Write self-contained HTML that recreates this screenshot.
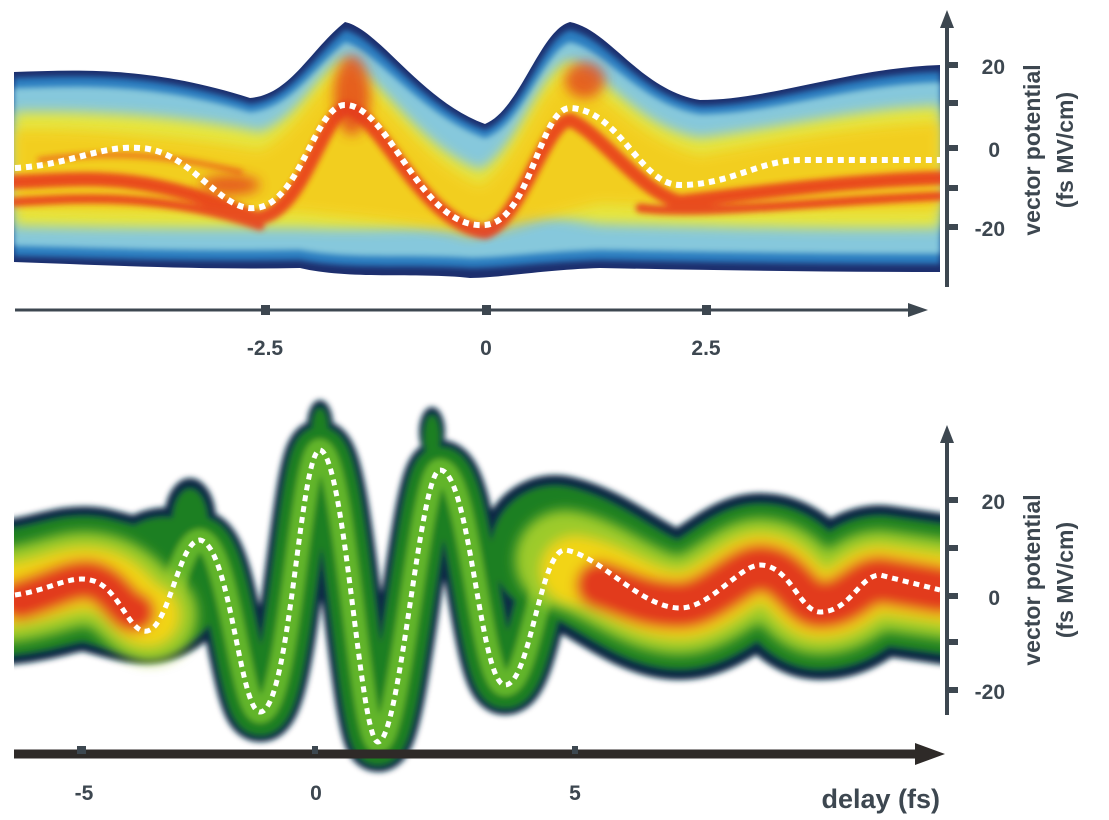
<!DOCTYPE html>
<html><head><meta charset="utf-8"><style>
html,body{margin:0;padding:0;background:#fff;width:1109px;height:820px;overflow:hidden}
svg text{font-family:"Liberation Sans",sans-serif;font-weight:bold;fill:#3d4750}
</style></head><body>
<svg width="1109" height="820" viewBox="0 0 1109 820" xmlns="http://www.w3.org/2000/svg">
<defs>
<filter id="b" filterUnits="userSpaceOnUse" x="0" y="0" width="1109" height="820"><feGaussianBlur stdDeviation="3"/></filter>
<filter id="b2" filterUnits="userSpaceOnUse" x="0" y="0" width="1109" height="820"><feGaussianBlur stdDeviation="6"/></filter>
<clipPath id="ct"><rect x="14" y="0" width="926" height="300"/></clipPath>
<clipPath id="cb"><rect x="14" y="380" width="926" height="400"/></clipPath>
<path id="m" d="M15,595 C50,590 70,575 90,580 C120,585 130,640 150,630 C170,620 180,540 200,540 C230,545 240,712 260,712 C290,712 300,450 320,450 C345,455 360,742 378,742 C400,742 420,470 440,470 C470,470 480,685 505,685 C530,685 540,550 565,550 C600,555 640,608 680,608 C710,608 740,565 760,565 C790,565 800,612 820,612 C850,612 860,575 880,575 L940,590"/>
<path id="L" d="M10,592 C50,588 70,575 95,580 C130,588 150,600 165,580"/>
<path id="R" d="M555,550 C600,560 640,605 680,605 C710,605 740,568 760,568 C790,568 800,605 820,605 C850,605 860,580 880,580 L950,590"/>
</defs>
<!-- TOP PANEL -->
<g clip-path="url(#ct)">
<path d="M14,72 C80,70 150,66 250,98 C290,95 310,50 345,22 C380,30 420,100 485,124 C520,110 540,30 570,22 C610,30 640,90 700,100 C770,100 850,68 940,65 L940,272 C820,272 700,270 600,268 C540,270 500,278 470,278 C420,272 350,280 300,268 C200,270 100,265 14,262 Z" fill="#1d2f6e"/>
<path d="M14,78 C80,76 150,72 250,104 C290,100 312,58 345,30 C378,38 420,106 485,130 C522,116 542,38 570,30 C608,38 640,96 700,106 C770,106 850,74 940,72 L940,264 C820,264 700,262 600,260 C540,262 500,268 470,268 C420,264 350,270 300,260 C200,262 100,258 14,256 Z" fill="#2a7dc0" filter="url(#b)"/>
<path d="M14,88 C80,86 150,82 250,112 C290,108 314,68 345,42 C376,50 420,114 485,138 C524,124 544,50 570,42 C606,50 640,104 700,114 C770,114 850,84 940,82 L940,254 C820,254 700,252 600,250 C540,252 500,258 470,258 C420,254 350,260 300,250 C200,252 100,248 14,246 Z" fill="#86c8dc" filter="url(#b)"/>
<path d="M14,112 C100,110 200,118 260,132 C300,118 320,68 345,58 C380,78 420,148 480,170 C520,148 540,68 570,60 C610,78 640,128 700,138 C780,128 860,108 940,106 L940,228 C820,230 700,226 600,224 C540,214 520,210 470,224 C420,228 350,230 300,228 C200,228 100,228 14,226 Z" fill="#e6e640" filter="url(#b2)"/>
<path d="M14,130 C100,128 200,140 260,150 C300,130 320,80 345,70 C380,90 420,160 480,185 C520,160 540,80 570,75 C610,95 640,140 700,155 C780,140 860,125 940,122 L940,210 C820,212 700,208 600,204 C540,218 500,232 470,236 C420,222 350,218 300,212 C200,212 100,210 14,208 Z" fill="#f4cc1a" filter="url(#b2)" opacity="0.9"/>
<g fill="none" stroke="#e8341c" stroke-linecap="round" filter="url(#b)" opacity="0.85">
<path d="M14,182 C80,180 140,168 255,218 C300,218 320,122 345,108 C380,112 420,222 485,232 C520,222 545,122 570,120 C600,132 640,192 680,202 C760,192 860,180 940,178" stroke-width="14"/>
<path d="M14,202 C80,198 160,192 260,226" stroke-width="9"/>
<path d="M40,160 C100,152 160,152 240,172" stroke-width="6" opacity="0.6"/>
<path d="M640,208 C700,216 800,202 940,196" stroke-width="9"/>
</g>
<g fill="#e23a1c" filter="url(#b2)" opacity="0.75">
<ellipse cx="352" cy="95" rx="18" ry="40"/>
<ellipse cx="585" cy="80" rx="20" ry="18"/>
<ellipse cx="230" cy="185" rx="30" ry="10"/>
</g>
<path d="M15,168 C70,165 100,145 140,148 C190,150 220,212 255,208 C300,205 315,105 345,105 C390,105 420,230 485,225 C530,222 540,108 570,108 C620,110 640,185 680,185 C730,185 760,160 800,160 L940,160" fill="none" stroke="#fff" stroke-width="6" stroke-dasharray="6 5"/>
</g>
<!-- top axes -->
<line x1="947" y1="24" x2="947" y2="287" stroke="#3d4750" stroke-width="4"/>
<path d="M947,10 L940,28 L954,28 Z" fill="#3d4750"/>
<g stroke="#3d4750" stroke-width="6"><line x1="945" y1="65" x2="958" y2="65"/><line x1="945" y1="103" x2="958" y2="103"/><line x1="945" y1="148" x2="958" y2="148"/><line x1="945" y1="188" x2="958" y2="188"/><line x1="945" y1="227" x2="958" y2="227"/></g>
<g font-size="21" text-anchor="end"><text x="1005" y="74">20</text><text x="1000" y="157">0</text><text x="1005" y="236">-20</text></g>
<text transform="translate(1040,150) rotate(-90)" text-anchor="middle" font-size="23">vector potential</text>
<text transform="translate(1073,150) rotate(-90)" text-anchor="middle" font-size="23">(fs MV/cm)</text>
<line x1="15" y1="310" x2="910" y2="310" stroke="#3d4750" stroke-width="3"/>
<path d="M928,310 L908,303 L908,317 Z" fill="#3d4750"/>
<g fill="#3d4750"><rect x="261" y="305" width="9" height="10"/><rect x="482" y="305" width="9" height="10"/><rect x="702" y="305" width="9" height="10"/></g>
<g font-size="21" text-anchor="middle"><text x="265" y="355">-2.5</text><text x="486" y="355">0</text><text x="706" y="355">2.5</text></g>
<!-- BOTTOM PANEL -->
<g clip-path="url(#cb)" fill="none" stroke-linecap="round" stroke-linejoin="round">
<g filter="url(#b)">
<use href="#L" stroke="#0e2a44" stroke-width="145"/>
<use href="#R" stroke="#0e2a44" stroke-width="150"/>
<use href="#m" stroke="#0e2a44" stroke-width="60"/>
<ellipse cx="320" cy="425" rx="13" ry="25" fill="#0e2a44" stroke="none"/>
<ellipse cx="432" cy="432" rx="13" ry="25" fill="#0e2a44" stroke="none"/>
<ellipse cx="190" cy="520" rx="26" ry="42" fill="#0e2a44" stroke="none"/>
<use href="#L" stroke="#1c7f22" stroke-width="125"/>
<use href="#R" stroke="#1c7f22" stroke-width="128"/>
<use href="#m" stroke="#1c7f22" stroke-width="46"/>
<ellipse cx="190" cy="525" rx="18" ry="36" fill="#1c7f22" stroke="none"/>
<ellipse cx="320" cy="430" rx="8" ry="22" fill="#1c7f22" stroke="none"/>
<ellipse cx="432" cy="437" rx="8" ry="22" fill="#1c7f22" stroke="none"/>
<use href="#m" stroke="#62b52c" stroke-width="22"/>
</g>
<g filter="url(#b2)">
<path d="M10,595 C50,590 70,575 95,580 C125,585 135,610 150,615" stroke="#9ccb2a" stroke-width="95"/>
<path d="M565,560 C600,565 640,605 680,605 C710,605 740,568 760,568 C790,568 800,605 820,605 C850,605 860,580 880,580 L950,590" stroke="#9ccb2a" stroke-width="100"/>
<path d="M12,595 C50,590 70,575 95,580 C125,585 135,615 148,615" stroke="#f2d418" stroke-width="62"/>
<path d="M575,570 C610,575 640,605 680,605 C710,605 740,568 760,568 C790,568 800,605 820,605 C850,605 860,580 880,580 L950,590" stroke="#f2d418" stroke-width="68"/>
<path d="M20,600 C50,592 70,578 90,580 C115,585 125,615 135,612" stroke="#e23a1c" stroke-width="40"/>
<path d="M600,585 C630,595 645,605 680,605 C710,605 740,568 760,568 C790,568 800,605 820,605 C850,605 860,580 880,580 L940,590" stroke="#e23a1c" stroke-width="48"/>
</g>
<use href="#m" stroke="#fff" stroke-width="5" stroke-dasharray="6 5" stroke-linecap="butt"/>
</g>
<!-- bottom axes -->
<line x1="947" y1="440" x2="947" y2="715" stroke="#3d4750" stroke-width="4"/>
<path d="M947,425 L940,443 L954,443 Z" fill="#3d4750"/>
<g stroke="#3d4750" stroke-width="6"><line x1="945" y1="500" x2="958" y2="500"/><line x1="945" y1="548" x2="958" y2="548"/><line x1="945" y1="596" x2="958" y2="596"/><line x1="945" y1="642" x2="958" y2="642"/><line x1="945" y1="690" x2="958" y2="690"/></g>
<g font-size="21" text-anchor="end"><text x="1005" y="509">20</text><text x="1000" y="605">0</text><text x="1005" y="699">-20</text></g>
<text transform="translate(1040,580) rotate(-90)" text-anchor="middle" font-size="23">vector potential</text>
<text transform="translate(1073,580) rotate(-90)" text-anchor="middle" font-size="23">(fs MV/cm)</text>
<line x1="14" y1="754" x2="920" y2="754" stroke="#2e2a28" stroke-width="9"/>
<path d="M945,754 L915,743 L915,765 Z" fill="#2e2a28"/>
<g fill="#3d4750"><rect x="77" y="746" width="9" height="8"/><rect x="312" y="746" width="6" height="8"/><rect x="572" y="746" width="6" height="8"/></g>
<g font-size="21" text-anchor="middle"><text x="84" y="800">-5</text><text x="316" y="800">0</text><text x="575" y="800">5</text></g>
<text x="940" y="808" text-anchor="end" font-size="27">delay (fs)</text>
</svg>
</body></html>
